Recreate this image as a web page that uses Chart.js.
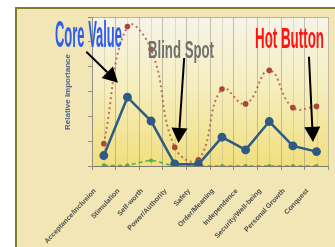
<!DOCTYPE html>
<html>
<head>
<meta charset="utf-8">
<script src="https://cdn.jsdelivr.net/npm/chart.js@4.4.1/dist/chart.umd.min.js"></script>
<style>
  html, body { margin: 0; padding: 0; background: #ffffff; overflow: hidden; }
  #wrap { width: 335px; height: 247px; overflow: hidden; }
  canvas { display: block; }
</style>
</head>
<body>
<div id="wrap"><canvas id="valuesChart" width="340" height="247"></canvas></div>
<script>
// 类别与数据
const categories = ['Acceptance/Inclusion', 'Stimulation', 'Self-worth', 'Power/Authority', 'Safety',
    'Order/Meaning', 'Independence', 'Security/Well-being', 'Personal Growth', 'Conquest'];
const profileValues = [0.42, 2.77, 1.81, 0.08, 0.06, 1.16, 0.65, 1.79, 0.81, 0.58];
const ceilingValues = [0.9, 5.62, 4.7, 0.75, 0.25, 3.1, 2.5, 3.85, 2.35, 2.4];
const floorValues = [0.03, 0.03, 0.22, 0, 0, 0, 0, 0, 0, 0];
const yTicks = [0, 1, 2, 3, 4, 5, 6];

// 标注：箭头指向 (类别序号, 数值)
const arrows = [
    { from: [-0.74, 4.6], to: [0.6, 3.35] },
    { from: [3.4, 4.35], to: [3.16, 0.93] },
    { from: [8.68, 4.4], to: [8.85, 0.97] }
];
const labels = [
    { text: 'Core Value', x: 55, base: 47, cap: 26, width: 67, color: '#2d5cf2' },
    { text: 'Blind Spot', x: 148, base: 58, cap: 17, width: 66, color: '#707070' },
    { text: 'Hot Button', x: 255, base: 48, cap: 21, width: 69, color: '#ff1414' }
];

// 背景与绘图区渐变
const backdrop = {
    id: 'backdrop',
    beforeDraw: function(chart) {
        const ctx = chart.ctx;
        const a = chart.chartArea;
        ctx.save();
        ctx.fillStyle = '#ffffff';
        ctx.fillRect(0, 0, chart.width, chart.height);
        ctx.fillStyle = '#f2e6b6';
        ctx.fillRect(17, 9, chart.width, chart.height);
        ctx.fillStyle = '#7c8029';
        ctx.fillRect(15, 7, chart.width, 2);
        ctx.fillRect(15, 7, 2, chart.height);

        const g = ctx.createLinearGradient(0, a.top, 0, a.bottom);
        g.addColorStop(0, '#f7f3e8');
        g.addColorStop(0.45, '#f5eec0');
        g.addColorStop(1, '#f1df7e');
        ctx.fillStyle = g;
        ctx.fillRect(a.left, a.top, a.right - a.left, a.bottom - a.top);

        // 类别位置的浅色竖线
        const xs = chart.scales.x;
        ctx.strokeStyle = 'rgba(165,160,140,0.3)';
        ctx.lineWidth = 1;
        for (let i = 0; i < categories.length; i++) {
            const px = Math.round(xs.getPixelForValue(i)) + 0.5;
            ctx.beginPath();
            ctx.moveTo(px, a.top);
            ctx.lineTo(px, a.bottom);
            ctx.stroke();
        }
        ctx.strokeStyle = 'rgba(150,150,140,0.7)';
        ctx.beginPath();
        ctx.moveTo(a.left, a.top + 0.5);
        ctx.lineTo(a.right, a.top + 0.5);
        ctx.stroke();
        ctx.restore();
    }
};

// 文字与箭头
const annotate = {
    id: 'annotate',
    afterDraw: function(chart) {
        const ctx = chart.ctx;
        const xs = chart.scales.x;
        const ys = chart.scales.y;
        ctx.save();

        // 纵轴标题
        ctx.translate(68, 92);
        ctx.rotate(-Math.PI / 2);
        ctx.font = 'bold 8px "Liberation Sans", Arial, sans-serif';
        ctx.fillStyle = '#50658e';
        ctx.textAlign = 'center';
        ctx.textBaseline = 'middle';
        ctx.fillText('Relative Importance', 0, 0);
        ctx.setTransform(1, 0, 0, 1, 0, 0);

        arrows.forEach(function(ar) {
            const x1 = xs.getPixelForValue(ar.from[0]);
            const y1 = ys.getPixelForValue(ar.from[1]);
            const x2 = xs.getPixelForValue(ar.to[0]);
            const y2 = ys.getPixelForValue(ar.to[1]);
            const ang = Math.atan2(y2 - y1, x2 - x1);
            const hl = 15, hw = 8;
            const bx = x2 - hl * Math.cos(ang);
            const by = y2 - hl * Math.sin(ang);
            ctx.strokeStyle = '#000000';
            ctx.lineWidth = 2;
            ctx.beginPath();
            ctx.moveTo(x1, y1);
            ctx.lineTo(bx, by);
            ctx.stroke();
            ctx.fillStyle = '#000000';
            ctx.beginPath();
            ctx.moveTo(x2, y2);
            ctx.lineTo(bx + hw * Math.sin(ang), by - hw * Math.cos(ang));
            ctx.lineTo(bx - hw * Math.sin(ang), by + hw * Math.cos(ang));
            ctx.closePath();
            ctx.fill();
        });

        labels.forEach(function(l) {
            const size = l.cap / 0.72;
            ctx.font = 'bold ' + size + 'px "Liberation Sans Narrow", "Liberation Sans", Arial, sans-serif';
            const w = ctx.measureText(l.text).width;
            ctx.save();
            ctx.translate(l.x, l.base);
            ctx.scale(l.width / w, 1);
            ctx.textAlign = 'left';
            ctx.textBaseline = 'alphabetic';
            ctx.fillStyle = l.color;
            ctx.fillText(l.text, 0, 0);
            ctx.restore();
        });
        ctx.restore();
    }
};

document.addEventListener('DOMContentLoaded', function() {
    const ctx = document.getElementById('valuesChart').getContext('2d');
    window.valuesChart = new Chart(ctx, {
        type: 'line',
        data: {
            labels: categories,
            datasets: [
                {
                    label: 'Profile',
                    data: profileValues,
                    borderColor: '#2f5a86',
                    backgroundColor: '#2f5a86',
                    borderWidth: 2.5,
                    pointRadius: 3.2,
                    tension: 0,
                    order: 1
                },
                {
                    label: 'Ceiling',
                    data: ceilingValues,
                    borderColor: 'rgba(176,84,72,0.8)',
                    backgroundColor: '#a8483a',
                    borderWidth: 2,
                    borderDash: [2, 3],
                    pointRadius: 2.8,
                    pointBorderWidth: 0,
                    tension: 0.45,
                    order: 2
                },
                {
                    label: 'Floor',
                    data: floorValues,
                    borderColor: '#4fb04a',
                    backgroundColor: '#4fb04a',
                    borderWidth: 1.5,
                    borderDash: [4, 3],
                    pointRadius: 2,
                    pointBorderWidth: 0,
                    tension: 0.3,
                    order: 3
                }
            ]
        },
        options: {
            responsive: false,
            animation: false,
            events: [],
            layout: { padding: { left: 86, top: 17, right: 2, bottom: 0 } },
            plugins: {
                legend: { display: false },
                tooltip: { enabled: false }
            },
            scales: {
                x: {
                    offset: true,
                    afterFit: function(scale) { scale.height = 81; },
                    grid: {
                        offset: true,
                        color: 'rgba(150,145,130,0.55)',
                        tickLength: 4,
                        tickColor: 'rgba(120,120,110,0.8)'
                    },
                    border: { color: 'rgba(110,110,100,0.9)' },
                    ticks: {
                        autoSkip: false,
                        minRotation: 47,
                        maxRotation: 47,
                        labelOffset: -9,
                        padding: 17,
                        color: '#505050',
                        font: { family: '"Liberation Sans", Arial, sans-serif', size: 7, weight: 'bold' }
                    }
                },
                y: {
                    min: 0,
                    max: 6,
                    afterBuildTicks: function(scale) {
                        scale.ticks = yTicks.map(function(v) { return { value: v }; });
                    },
                    afterFit: function(scale) { scale.width = 6; },
                    grid: {
                        drawOnChartArea: false,
                        tickLength: 4,
                        tickColor: 'rgba(120,120,110,0.8)'
                    },
                    border: { color: 'rgba(140,140,130,0.9)' },
                    ticks: { display: false }
                }
            }
        },
        plugins: [backdrop, annotate]
    });
});
</script>
</body>
</html>
